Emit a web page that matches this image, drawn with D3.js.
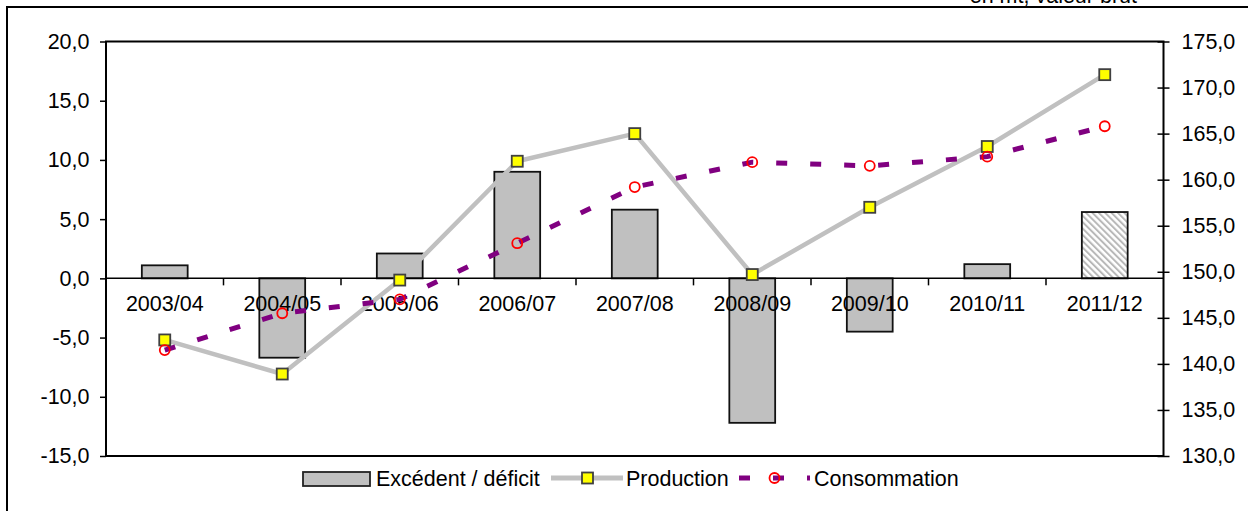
<!DOCTYPE html>
<html>
<head>
<meta charset="utf-8">
<script src="https://cdn.jsdelivr.net/npm/d3@7"></script>
<style>
  body { margin: 0; background: #fff; }
  svg text { font-family: "Liberation Sans", Arial, sans-serif; font-size: 21.5px; fill: #000; }
</style>
</head>
<body>
<svg width="1248" height="511"></svg>
<script>
/* Data */
var categories = ["2003/04", "2004/05", "2005/06", "2006/07", "2007/08", "2008/09", "2009/10", "2010/11", "2011/12"];
var excedent = [1.1, -6.7, 2.1, 9.0, 5.8, -12.2, -4.5, 1.2, 5.6];
var production = [142.6, 138.9, 149.1, 162.0, 165.0, 149.7, 157.0, 163.6, 171.4];
var consommation = [141.5, 145.5, 147.0, 153.1, 159.2, 161.9, 161.5, 162.5, 165.8];
var leftTicks = [20, 15, 10, 5, 0, -5, -10, -15];
var rightTicks = [175, 170, 165, 160, 155, 150, 145, 140, 135, 130];
var legendLabels = ["Excédent / déficit", "Production", "Consommation"];
var unitLabel = "en mt, valeur brut";

var svg = d3.select("svg"),
    plot = {left: 106, right: 1163.5, top: 41.5, bottom: 456};

/* number format with decimal comma */
var fmt = function(d) { return d3.format(".1f")(d).replace(".", ",").replace("\u2212", "-"); };

var x = d3.scaleBand()
    .domain(categories)
    .range([plot.left, plot.right])
    .paddingInner(0)
    .paddingOuter(0);

var yL = d3.scaleLinear().domain([-15, 20]).range([plot.bottom, plot.top]);
var yR = d3.scaleLinear().domain([130, 175]).range([plot.bottom, plot.top]);

/* hatch pattern for the last (estimated) bar */
var defs = svg.append("defs");
defs.append("pattern")
    .attr("id", "hatch")
    .attr("patternUnits", "userSpaceOnUse")
    .attr("width", 4.5)
    .attr("height", 4.5)
    .attr("patternTransform", "rotate(-45)")
  .call(function(p) {
    p.append("rect").attr("width", 4.5).attr("height", 4.5).attr("fill", "#fff");
    p.append("line").attr("x1", 1).attr("y1", 0).attr("x2", 1).attr("y2", 4.5)
        .attr("stroke", "#b8b8b8").attr("stroke-width", 2);
  });

/* outer frame and unit label */
svg.append("rect")
    .attr("x", 7).attr("y", 7)
    .attr("width", 1260).attr("height", 520)
    .attr("fill", "none").attr("stroke", "#000").attr("stroke-width", 2);

svg.append("text")
    .attr("x", 1137).attr("y", 3)
    .attr("text-anchor", "end")
    .text(unitLabel);

/* plot area border */
svg.append("rect")
    .attr("x", plot.left).attr("y", plot.top)
    .attr("width", plot.right - plot.left).attr("height", plot.bottom - plot.top)
    .attr("fill", "none").attr("stroke", "#000").attr("stroke-width", 2);

/* bars */
var barW = x.bandwidth() * 0.39;
svg.append("g")
  .selectAll("rect")
  .data(excedent)
  .enter().append("rect")
    .attr("x", function(d, i) { return x(categories[i]) + x.bandwidth() / 2 - barW / 2; })
    .attr("y", function(d) { return yL(Math.max(0, d)); })
    .attr("width", barW)
    .attr("height", function(d) { return Math.abs(yL(d) - yL(0)); })
    .attr("fill", function(d, i) { return i === categories.length - 1 ? "url(#hatch)" : "#c0c0c0"; })
    .attr("stroke", "#111")
    .attr("stroke-width", 1.8);

/* left axis */
var gL = svg.append("g")
    .attr("transform", "translate(" + plot.left + ",0)")
    .call(d3.axisLeft(yL).tickValues(leftTicks).tickFormat(fmt).tickSize(6).tickPadding(10.5));
gL.select(".domain").remove();
gL.selectAll("line").attr("stroke", "#000").attr("stroke-width", 1.5);
gL.selectAll("text").style("font-family", null).style("font-size", null).attr("font-family", null).attr("font-size", null);

/* right axis, ticks crossing the line */
var gR = svg.append("g")
    .attr("transform", "translate(" + plot.right + ",0)")
    .call(d3.axisRight(yR).tickValues(rightTicks).tickFormat(fmt).tickSize(6).tickPadding(12));
gR.select(".domain").remove();
gR.selectAll("line").attr("x1", -6).attr("stroke", "#000").attr("stroke-width", 1.5);
gR.selectAll("text").attr("font-family", null).attr("font-size", null);

/* category axis on the zero line */
var gX = svg.append("g")
    .attr("transform", "translate(0," + yL(0) + ")");
gX.append("line")
    .attr("x1", plot.left).attr("x2", plot.right)
    .attr("stroke", "#000").attr("stroke-width", 1.5);
gX.selectAll(".tk")
    .data(d3.range(1, categories.length))
    .enter().append("line")
    .attr("class", "tk")
    .attr("x1", function(i) { return x(categories[i]); })
    .attr("x2", function(i) { return x(categories[i]); })
    .attr("y1", 0).attr("y2", 7)
    .attr("stroke", "#000").attr("stroke-width", 1.5);
gX.selectAll(".lbl")
    .data(categories)
    .enter().append("text")
    .attr("class", "lbl")
    .attr("x", function(d) { return x(d) + x.bandwidth() / 2; })
    .attr("y", 33)
    .attr("text-anchor", "middle")
    .text(function(d) { return d; });

var cx = function(d, i) { return x(categories[i]) + x.bandwidth() / 2; };

/* production line */
svg.append("path")
    .datum(production)
    .attr("fill", "none")
    .attr("stroke", "#c0c0c0")
    .attr("stroke-width", 4.5)
    .attr("stroke-linejoin", "round")
    .attr("d", d3.line().x(cx).y(function(d) { return yR(d); }));

/* consumption line */
svg.append("path")
    .datum(consommation)
    .attr("fill", "none")
    .attr("stroke", "#800080")
    .attr("stroke-width", 5)
    .attr("stroke-dasharray", "11,23")
    .attr("d", d3.line().x(cx).y(function(d) { return yR(d); }));

svg.append("g").selectAll("rect")
    .data(production)
    .enter().append("rect")
    .attr("x", function(d, i) { return cx(d, i) - 5.5; })
    .attr("y", function(d) { return yR(d) - 5.5; })
    .attr("width", 11).attr("height", 11)
    .attr("fill", "#ffff00")
    .attr("stroke", "#404040")
    .attr("stroke-width", 1.8);

svg.append("g").selectAll("circle")
    .data(consommation)
    .enter().append("circle")
    .attr("cx", cx)
    .attr("cy", function(d) { return yR(d); })
    .attr("r", 5)
    .attr("fill", "none")
    .attr("stroke", "#ff0000")
    .attr("stroke-width", 1.8);

/* legend */
var lg = svg.append("g"), ly = 478;
lg.append("rect")
    .attr("x", 303).attr("y", 472).attr("width", 67).attr("height", 14)
    .attr("fill", "#c0c0c0").attr("stroke", "#222").attr("stroke-width", 1.8);
lg.append("text").attr("x", 376).attr("y", 486).text(legendLabels[0]);

lg.append("line")
    .attr("x1", 551).attr("x2", 623).attr("y1", ly).attr("y2", ly)
    .attr("stroke", "#c0c0c0").attr("stroke-width", 5);
lg.append("rect")
    .attr("x", 587.5 - 5.5).attr("y", ly - 5.5).attr("width", 11).attr("height", 11)
    .attr("fill", "#ffff00").attr("stroke", "#404040").attr("stroke-width", 1.8);
lg.append("text").attr("x", 626).attr("y", 486).text(legendLabels[1]);

lg.append("line")
    .attr("x1", 739).attr("x2", 810).attr("y1", ly).attr("y2", ly)
    .attr("stroke", "#800080").attr("stroke-width", 5)
    .attr("stroke-dasharray", "11,23");
lg.append("circle")
    .attr("cx", 774.5).attr("cy", ly).attr("r", 5)
    .attr("fill", "none").attr("stroke", "#ff0000").attr("stroke-width", 1.8);
lg.append("text").attr("x", 814).attr("y", 486).text(legendLabels[2]);
</script>
</body>
</html>
